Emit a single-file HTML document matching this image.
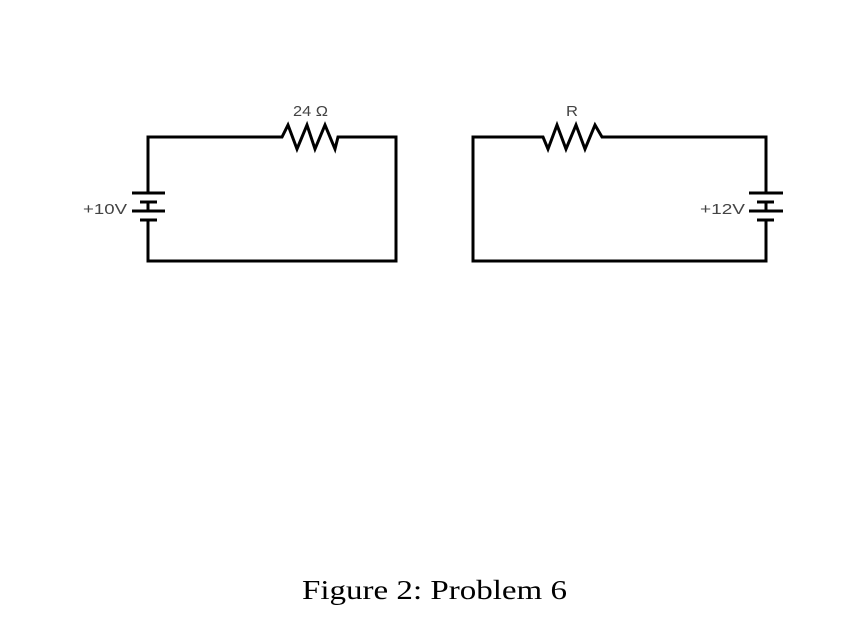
<!DOCTYPE html>
<html><head><style>
html,body{margin:0;padding:0;background:#fff;}
</style></head><body>
<svg width="866" height="626" viewBox="0 0 866 626" xmlns="http://www.w3.org/2000/svg">
<g fill="none" stroke="#000" stroke-width="3" stroke-linejoin="miter">
<polyline points="148,193 148,137 282,137 288,125 297,149 307,125 315,149 325,125 335,149 338,137 396,137 396,261 148,261 148,220"/>
<line x1="132" y1="193" x2="165" y2="193"/>
<line x1="140" y1="202" x2="157" y2="202"/>
<line x1="132" y1="211" x2="165" y2="211"/>
<line x1="140" y1="220" x2="157" y2="220"/>
<line x1="148" y1="202" x2="148" y2="211"/>
<polyline points="766,193 766,137 602,137 595,125 585,149 576,125 566,149 557,125 548,149 543,137 473,137 473,261 766,261 766,220"/>
<line x1="749" y1="193" x2="783" y2="193"/>
<line x1="757" y1="202" x2="774" y2="202"/>
<line x1="749" y1="211" x2="783" y2="211"/>
<line x1="757" y1="220" x2="774" y2="220"/>
<line x1="766" y1="202" x2="766" y2="211"/>
</g>
<g font-family="Liberation Sans, sans-serif" font-size="15" fill="#444">
<text x="293" y="116" textLength="35" lengthAdjust="spacingAndGlyphs">24 Ω</text>
<text x="566" y="116" textLength="12" lengthAdjust="spacingAndGlyphs">R</text>
<text x="83" y="214" textLength="44" lengthAdjust="spacingAndGlyphs">+10V</text>
<text x="700" y="214" textLength="45" lengthAdjust="spacingAndGlyphs">+12V</text>
</g>
<text x="302" y="599" textLength="265" lengthAdjust="spacingAndGlyphs" font-family="Liberation Serif, serif" font-size="27" fill="#000">Figure 2:  Problem 6</text>
</svg>
</body></html>
